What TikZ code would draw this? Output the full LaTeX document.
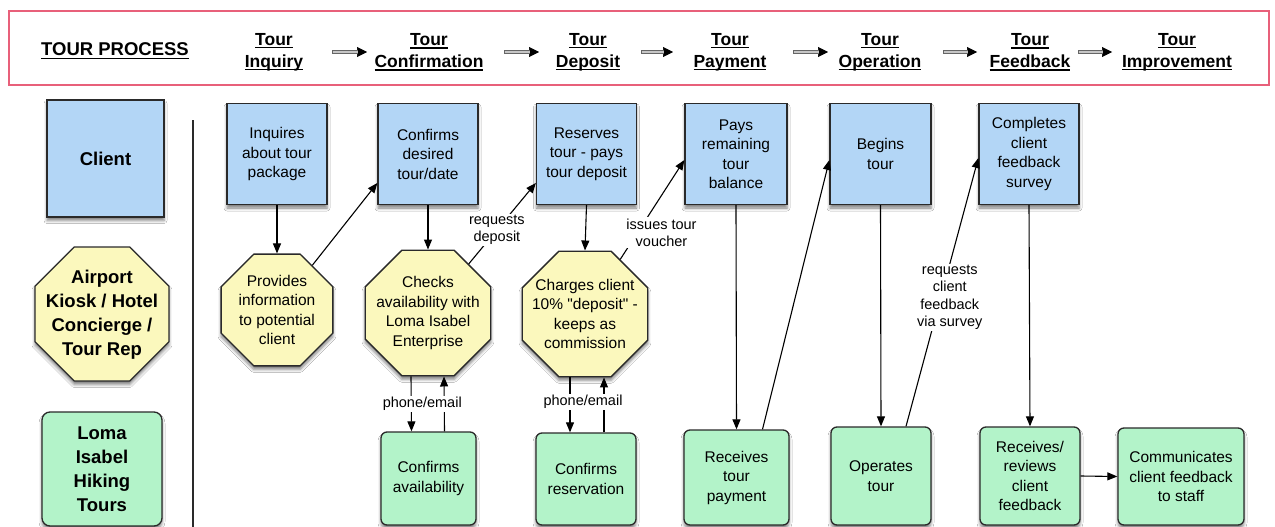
\documentclass[tikz,border=0pt]{standalone}
\usepackage{fontspec}
\setmainfont{Liberation Sans}
\newfontfamily\plainfont{Liberation Sans}
\usetikzlibrary{shapes.geometric, arrows.meta, shadows.blur}

\definecolor{clientblue}{HTML}{B3D6F6}
\definecolor{agentyellow}{HTML}{FBF8BD}
\definecolor{tourgreen}{HTML}{B3F3C9}
\definecolor{framered}{HTML}{E8607A}
\definecolor{edgegray}{HTML}{2A2A2A}

% underlined word with a firm rule
\newsavebox\ulbox
\newcommand\ulword[1]{\sbox\ulbox{#1}\rlap{\rule[-3pt]{\wd\ulbox}{1.1pt}}\usebox\ulbox}

% header arrow between two stage titles: grey bar with a black head
\newcommand\stagearrow[4]{%
  \draw[-{Triangle[length=10pt,width=10pt]}, line width=0.6pt, draw=black,
        shorten <=#3, shorten >=#4] (#1.center) -- (#2.center);
  \draw[line width=3.8pt, draw=black!60, shorten <=#3, shorten >=#4+9pt] (#1.center) -- (#2.center);
  \draw[line width=1.6pt, draw=gray!45, shorten <=#3+1pt, shorten >=#4+9pt] (#1.center) -- (#2.center);
}

\begin{document}
\begin{tikzpicture}[x=1pt, y=-1pt,
  shade/.style={blur shadow={shadow xshift=0pt, shadow yshift=-3.5pt, shadow blur radius=3pt, shadow opacity=50}},
  bodyfont/.style={font=\fontsize{15.5}{19.5}\selectfont},
  box/.style={draw=edgegray, line width=1.3pt, inner sep=0pt, align=center, bodyfont, shade},
  client/.style={box, fill=clientblue, minimum width=100pt, minimum height=101pt},
  tour/.style={box, fill=tourgreen, rounded corners=6pt},
  oct/.style={regular polygon, regular polygon sides=8, minimum size=#1, draw=edgegray,
              line width=1.3pt, fill=agentyellow, inner sep=0pt, shade},
  octtext/.style={align=center, inner sep=0pt, bodyfont},
  role/.style={align=center, font=\fontsize{18.5}{24}\selectfont\bfseries},
  stage/.style={align=center, inner sep=0pt, font=\fontsize{17.5}{22}\selectfont\bfseries},
  lbl/.style={fill=white, align=center, inner sep=1.5pt, font=\fontsize{14.5}{17.5}\selectfont},
  flow/.style={-{Triangle[length=10pt,width=8pt]}, line width=1.1pt, draw=black}
]
\useasboundingbox (0,0) rectangle (1275,527);
\fill[white] (0,0) rectangle (1275,527);

% ---------- header band ----------
\draw[framered, line width=2.8pt] (9,11) rectangle (1269,85);
\node[stage, font=\fontsize{18.5}{22}\selectfont\bfseries] (s0) at (115,51) {\ulword{TOUR PROCESS}};
\node[stage] (s1) at (274,52)  {\ulword{Tour}\\\ulword{Inquiry}};
\node[stage] (s2) at (429,52)  {\ulword{Tour}\\\ulword{Confirmation}};
\node[stage] (s3) at (588,52)  {\ulword{Tour}\\\ulword{Deposit}};
\node[stage] (s4) at (730,52)  {\ulword{Tour}\\\ulword{Payment}};
\node[stage] (s5) at (880,52)  {\ulword{Tour}\\\ulword{Operation}};
\node[stage] (s6) at (1030,52) {\ulword{Tour}\\\ulword{Feedback}};
\node[stage] (s7) at (1177,52) {\ulword{Tour}\\\ulword{Improvement}};
\begin{scope}[yshift=4pt]
\stagearrow{s1}{s2}{58pt}{62pt}
\stagearrow{s2}{s3}{75pt}{49pt}
\stagearrow{s3}{s4}{53pt}{57pt}
\stagearrow{s4}{s5}{63pt}{52pt}
\stagearrow{s5}{s6}{63pt}{53pt}
\stagearrow{s6}{s7}{48pt}{65pt}
\end{scope}

% ---------- actors ----------
\node[box, fill=clientblue, minimum width=117pt, minimum height=117pt, role] (rclient) at (105.5,158.5) {Client};
\node[oct=145, label={[role, yshift=-1pt]center:{Airport\\Kiosk / Hotel\\Concierge /\\Tour Rep}}] (ragent) at (102,314) {};
\node[tour, minimum width=120pt, minimum height=114pt, rounded corners=8pt, role] (rtour) at (102,469)
  {Loma\\Isabel\\Hiking\\Tours};
\draw[edgegray, line width=1.3pt] (193,120) -- (193,527);

% ---------- client steps ----------
\node[client] (b1) at (277,154)   {Inquires\\about tour\\package};
\node[client] (b2) at (428,154)   {Confirms\\desired\\tour/date};
\node[client] (b3) at (586.5,154) {Reserves\\tour - pays\\tour deposit};
\node[client, minimum width=102pt] (b4) at (736,154) {Pays\\remaining\\tour\\balance};
\node[client, minimum width=101pt] (b5) at (880.5,154) {Begins\\tour};
\node[client] (b6) at (1029,154)  {Completes\\client\\feedback\\survey};

% ---------- agent steps ----------
\node[oct=121, label={[octtext]center:{Provides\\information\\to potential\\client}}] (o1) at (277,310) {};
\node[oct=136, label={[octtext]center:{Checks\\availability with\\Loma Isabel\\Enterprise}}] (o2) at (428,313) {};
\node[oct=136, label={[octtext]center:{Charges client\\{\plainfont 10\% "deposit" -}\\keeps as\\commission}}] (o3) at (585,314) {};

% ---------- operator steps ----------
\node[tour, minimum width=95pt,  minimum height=93pt] (g2) at (428.5,478.5) {Confirms\\availability};
\node[tour, minimum width=100pt, minimum height=92pt] (g3) at (586,479)     {Confirms\\reservation};
\node[tour, minimum width=105pt, minimum height=95pt] (g4) at (736.5,477.5) {Receives\\tour\\payment};
\node[tour, minimum width=100pt, minimum height=98pt] (g5) at (881,476)     {Operates\\tour};
\node[tour, minimum width=100pt, minimum height=98pt] (g6) at (1030,476)    {Receives/\\reviews\\client\\feedback};
\node[tour, minimum width=126pt, minimum height=97pt] (g7) at (1181,476.5)  {Communicates\\client feedback\\to staff};

% ---------- flow ----------
\draw[flow] (b1.south) -- (o1.north);
\draw[flow] (o1) -- ([yshift=-29pt]b2.west);
\draw[flow] (b2.south) -- (o2.north);
\draw[flow] (o2) -- node[lbl, pos=0.42] {requests\\deposit} ([yshift=-29pt]b3.west);
\draw[flow] (b3.south) -- (o3.north);
\draw[flow] (o3) -- node[lbl, pos=0.27, xshift=24pt] {issues tour\\voucher} ([yshift=-6pt]b4.west);

\draw[flow] ([xshift=16pt]g2.north) -- ([xshift=16pt]o2.south);
\draw[flow] ([xshift=-17pt]o2.south) -- node[lbl, pos=0.5, xshift=11pt] {phone/email} ([xshift=-17pt]g2.north);
\draw[flow] ([xshift=18pt]g3.north) -- ([xshift=19pt]o3.south);
\draw[flow] ([xshift=-15pt]o3.south) -- node[lbl, pos=0.45, xshift=13pt] {phone/email} ([xshift=-16pt]g3.north);

\draw[flow] (b4.south) -- (g4.north);
\draw[flow] ([xshift=26pt]g4.north) -- ([yshift=-6pt]b5.west);
\draw[flow] (b5.south) -- (g5.north);
\draw[flow] ([xshift=25pt]g5.north) -- node[lbl, pos=0.48, xshift=9pt] {requests\\client\\feedback\\via survey} ([yshift=-4pt]b6.west);
\draw[flow] (b6.south) -- (g6.north);
\draw[flow] (g6.east) -- (g7.west);
\end{tikzpicture}
\end{document}
